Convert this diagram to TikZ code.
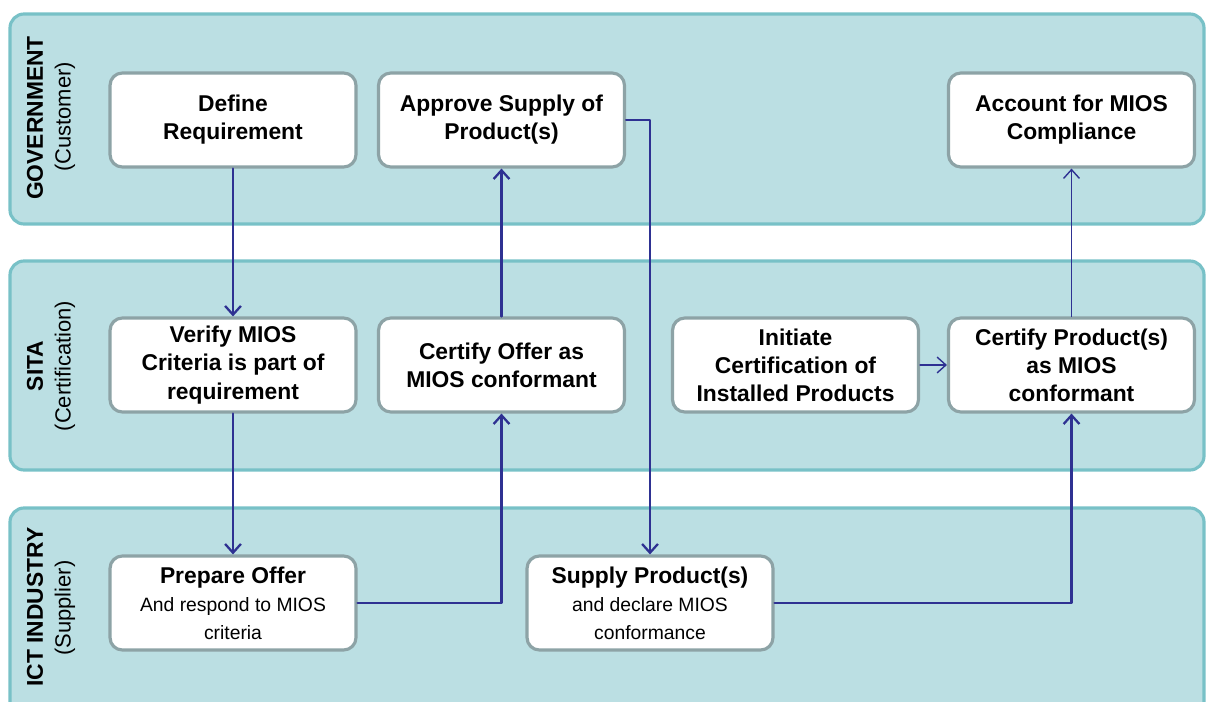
\documentclass[tikz,border=0pt]{standalone}
\usepackage{fontspec}
\setmainfont{Liberation Sans}
\usetikzlibrary{arrows.meta}
\definecolor{lanefill}{HTML}{BBDFE3}
\definecolor{laneline}{HTML}{78C1C7}
\definecolor{boxline}{HTML}{8DA3A6}
\definecolor{flow}{HTML}{2E3192}
\newcommand\subtxt[1]{{\fontsize{11}{13.5}\selectfont\mdseries #1}}
\begin{document}
\begin{tikzpicture}[x=0.02cm,y=-0.02cm,line cap=round,line join=round,
    >={Straight Barb[length=5pt,width=9pt]},
    lane/.style={fill=lanefill,draw=laneline,line width=1.8pt,rounded corners=8pt},
    lanehead/.style={rotate=90,font=\fontsize{13}{16}\selectfont\bfseries},
    lanesub/.style={rotate=90,font=\fontsize{12.5}{15}\selectfont},
    task/.style={draw=boxline,fill=white,line width=1.8pt,rounded corners=7pt,
        minimum width=4.92cm,minimum height=1.88cm,align=center,inner sep=2pt,
        font=\fontsize{13}{16}\selectfont\bfseries},
    flowline/.style={draw=flow,line width=1.3pt},
    thinflow/.style={draw=flow,line width=0.8pt}]
    \useasboundingbox (0,0) rectangle (1206,702);
    \clip (0,0) rectangle (1206,702);
    % swim lanes
    \draw[lane] (10,14) rectangle (1204,224);
    \draw[lane] (10,261) rectangle (1204,470);
    \draw[lane] (10,508) rectangle (1204,740);
    \node[lanehead] (govhead) at (35,118) {GOVERNMENT};
    \node[lanesub] (govsub) at (65,117) {(Customer)};
    \node[lanehead] (sitahead) at (35,366) {SITA};
    \node[lanesub] (sitasub) at (65,366) {(Certification)};
    \node[lanehead] (icthead) at (35,607) {ICT INDUSTRY};
    \node[lanesub] (ictsub) at (65,608) {(Supplier)};
    % tasks
    \node[task] (define) at (233,120) {Define\\Requirement};
    \node[task] (approve) at (501.5,120) {Approve Supply of\\Product(s)};
    \node[task] (account) at (1071.5,120) {Account for MIOS\\Compliance};
    \node[task] (verify) at (233,365) {Verify MIOS\\Criteria is part of\\requirement};
    \node[task] (offercert) at (501.5,365) {Certify Offer as\\MIOS conformant};
    \node[task] (initiate) at (795.5,365) {Initiate\\Certification of\\Installed Products};
    \node[task] (prodcert) at (1071.5,365) {Certify Product(s)\\as MIOS\\conformant};
    \node[task] (prepare) at (233,603) {Prepare Offer\\\subtxt{And respond to MIOS}\\\subtxt{criteria}};
    \node[task] (supply) at (650,603) {Supply Product(s)\\\subtxt{and declare MIOS}\\\subtxt{conformance}};
    % flow
    \draw[flowline,->] (define) -- (verify);
    \draw[flowline,->] (verify) -- (prepare);
    \draw[flowline,->] (prepare) -| (offercert);
    \draw[flowline,->] (offercert) -- (approve);
    \draw[flowline,->] (approve) -| (supply);
    \draw[flowline,->] (supply) -| (prodcert);
    \draw[thinflow,->] (initiate) -- (prodcert);
    \draw[thinflow,->] (prodcert) -- (account);
\end{tikzpicture}
\end{document}
